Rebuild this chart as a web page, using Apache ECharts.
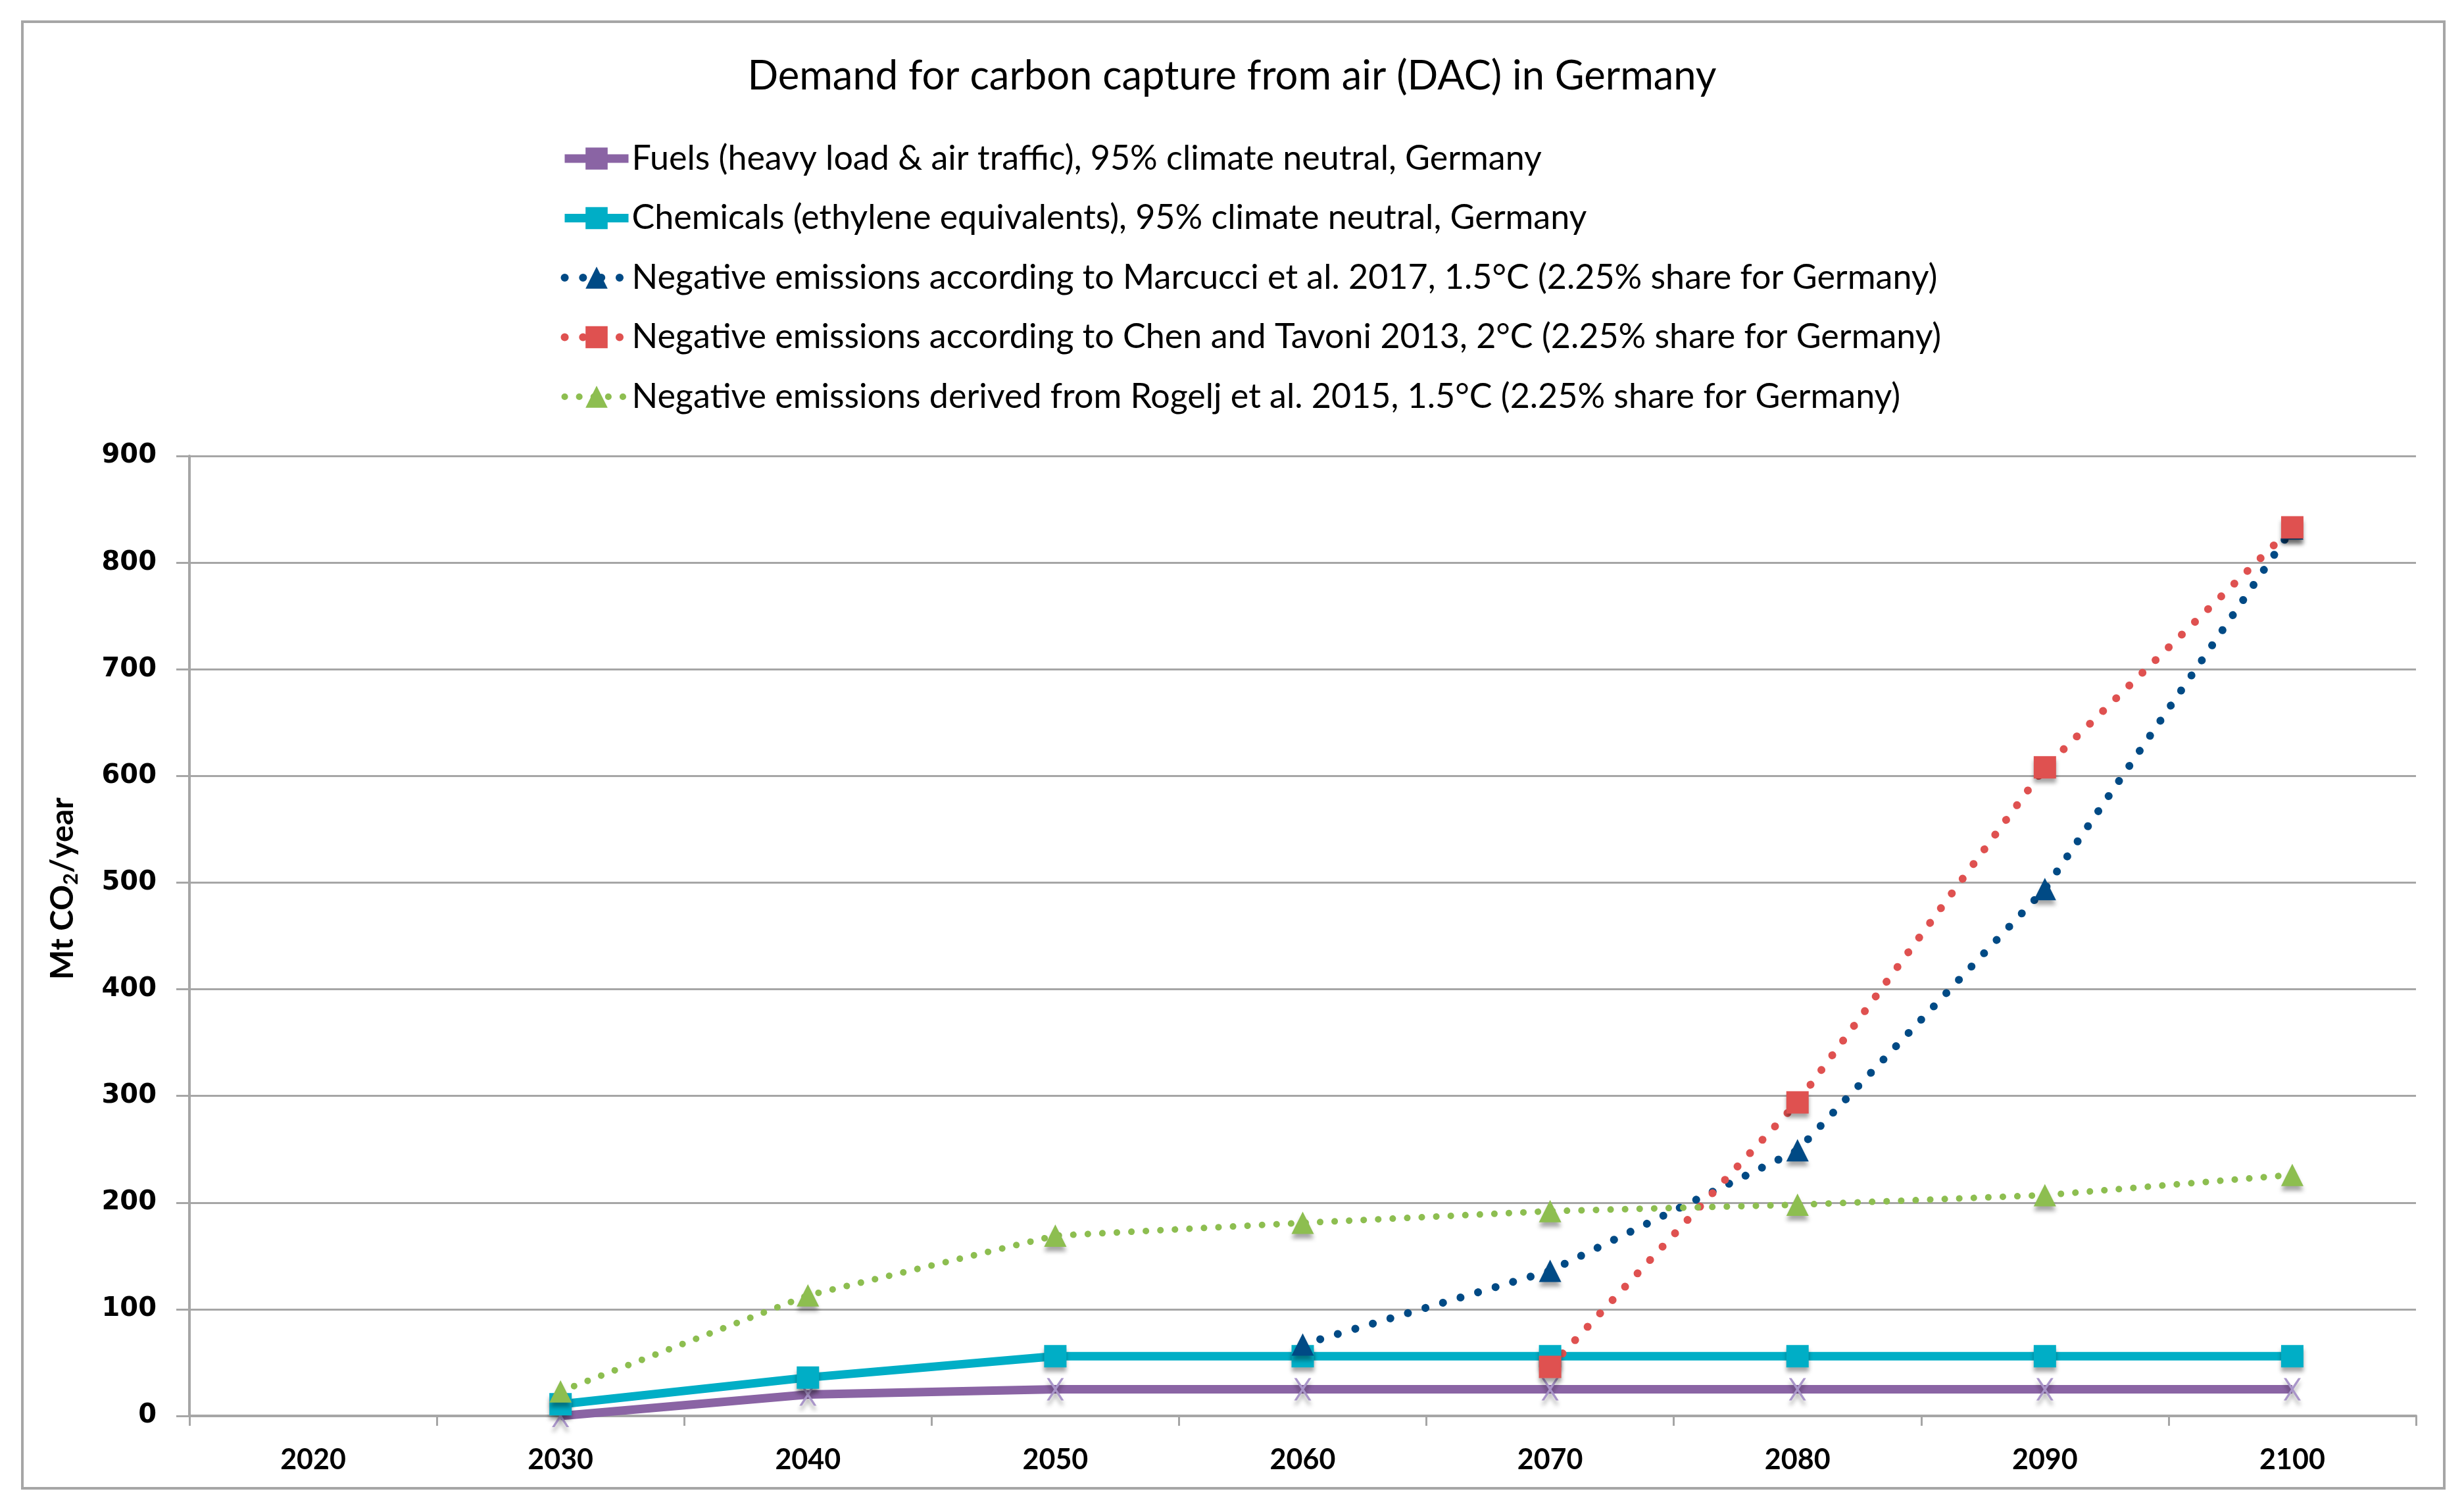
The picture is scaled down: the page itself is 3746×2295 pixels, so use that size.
<!DOCTYPE html>
<html><head><meta charset="utf-8">
<script src="https://cdn.jsdelivr.net/npm/echarts@6/dist/echarts.min.js"></script>
<style>html,body{margin:0;padding:0;background:#fff}#c{width:3746px;height:2295px}</style>
</head><body><div id="c"></div>
<script>
// ---- data ----
const years = ['2020', '2030', '2040', '2050', '2060', '2070', '2080', '2090', '2100'];
const fuels = [null, 0, 20, 25, 25, 25, 25, 25, 25];
const chemicals = [null, 11, 36, 56, 56, 56, 56, 56, 56];
const marcucci = [null, null, null, null, 67, 136, 249, 494, 832];
const chenTavoni = [null, null, null, null, null, 46, 294, 608, 833];
const rogelj = [null, 23, 113, 169, 181, 192, 198, 207, 226];
const yTicks = { min: 0, max: 900, interval: 100 };
const seriesNames = [
  'Fuels (heavy load & air traffic), 95% climate neutral, Germany',
  'Chemicals (ethylene equivalents), 95% climate neutral, Germany',
  'Negative emissions according to Marcucci et al. 2017, 1.5°C (2.25% share for Germany)',
  'Negative emissions according to Chen and Tavoni 2013, 2°C (2.25% share for Germany)',
  'Negative emissions derived from Rogelj et al. 2015, 1.5°C (2.25% share for Germany)'
];
const titleText = 'Demand for carbon capture from air (DAC) in Germany';

// ---- style ----
const FONT = 'Lato';
const GRAY = '#A6A6A6';
const C = { purple: '#8A64A4', teal: '#00AEC6', blue: '#004A85', red: '#DF5150', green: '#8DBE50' };
const XPATH = 'path://M0,0 L3,0 L10,8 L17,0 L20,0 L11.5,10 L20,20 L17,20 L10,12 L3,20 L0,20 L8.5,10 Z';
const shadow = { shadowColor: 'rgba(0,0,0,0.35)', shadowBlur: 6, shadowOffsetY: 7 };

const chart = echarts.init(document.getElementById('c'), null, { renderer: 'canvas' });
chart.setOption({
  backgroundColor: '#fff',
  animation: false,
  title: {
    text: titleText, left: 'center', top: 80,
    textStyle: { fontFamily: FONT, fontSize: 61.5, fontWeight: 'normal', color: '#000' }
  },
  legend: {
    orient: 'vertical', left: 847, top: 210,
    itemWidth: 97, itemHeight: 42, itemGap: 38.5,
    selectedMode: false,
    data: seriesNames,
    lineStyle: { width: 'inherit', type: 'inherit', cap: 'inherit' },
    textStyle: { fontFamily: FONT, fontSize: 52, color: '#000', lineHeight: 42 }
  },
  grid: { left: 288, right: 73, top: 693, bottom: 143, containLabel: false },
  xAxis: {
    type: 'category', data: years, boundaryGap: true,
    axisLine: { show: true, lineStyle: { color: GRAY, width: 4 } },
    axisTick: { show: true, length: 15, lineStyle: { color: GRAY, width: 3 } },
    axisLabel: { fontFamily: FONT, fontWeight: 'bold', fontSize: 43, color: '#000', margin: 46 },
    splitLine: { show: false }
  },
  yAxis: {
    type: 'value', min: yTicks.min, max: yTicks.max, interval: yTicks.interval,
    axisLine: { show: true, lineStyle: { color: GRAY, width: 4 } },
    axisTick: { show: true, length: 20, lineStyle: { color: GRAY, width: 3 } },
    axisLabel: { fontFamily: 'DejaVu Sans', fontWeight: 'bold', fontSize: 40, color: '#000', margin: 50 },
    splitLine: { show: true, lineStyle: { color: GRAY, width: 3 } },
    name: 'Mt CO{sub|2}/year', nameLocation: 'middle', nameGap: 165, nameRotate: 90,
    nameTextStyle: {
      fontFamily: FONT, fontWeight: 'bold', fontSize: 48, color: '#000', lineHeight: 54,
      padding: [0, 0, 0, 144],
      rich: { sub: { fontFamily: FONT, fontWeight: 'bold', fontSize: 31, color: '#000', lineHeight: 31, verticalAlign: 'bottom' } }
    }
  },
  graphic: [{
    type: 'rect', silent: true, z: -1,
    shape: { x: 34, y: 33, width: 3682, height: 2229 },
    style: { fill: 'none', stroke: GRAY, lineWidth: 4 }
  }],
  series: [
    {
      name: seriesNames[0], type: 'line', symbol: 'rect', symbolSize: 34,
      data: fuels.map(v => v === null ? null : { value: v, symbol: XPATH, symbolSize: [26, 34], itemStyle: { color: '#A995C9' } }),
      lineStyle: { color: C.purple, width: 13 },
      itemStyle: Object.assign({ color: C.purple }, shadow)
    },
    {
      name: seriesNames[1], type: 'line', symbol: 'rect', symbolSize: 34, data: chemicals,
      lineStyle: { color: C.teal, width: 13 },
      itemStyle: Object.assign({ color: C.teal }, shadow)
    },
    {
      name: seriesNames[2], type: 'line', symbol: 'triangle', symbolSize: 34, data: marcucci,
      lineStyle: { color: C.blue, width: 12, type: [0.1, 27.7], cap: 'round' },
      itemStyle: Object.assign({ color: C.blue }, shadow)
    },
    {
      name: seriesNames[3], type: 'line', symbol: 'rect', symbolSize: 34, data: chenTavoni,
      lineStyle: { color: C.red, width: 12, type: [0.1, 27.7], cap: 'round' },
      itemStyle: Object.assign({ color: C.red }, shadow)
    },
    {
      name: seriesNames[4], type: 'line', symbol: 'triangle', symbolSize: 34, data: rogelj,
      lineStyle: { color: C.green, width: 10, type: [0.1, 22], cap: 'round' },
      itemStyle: Object.assign({ color: C.green }, shadow)
    }
  ]
});
</script>
</body></html>
